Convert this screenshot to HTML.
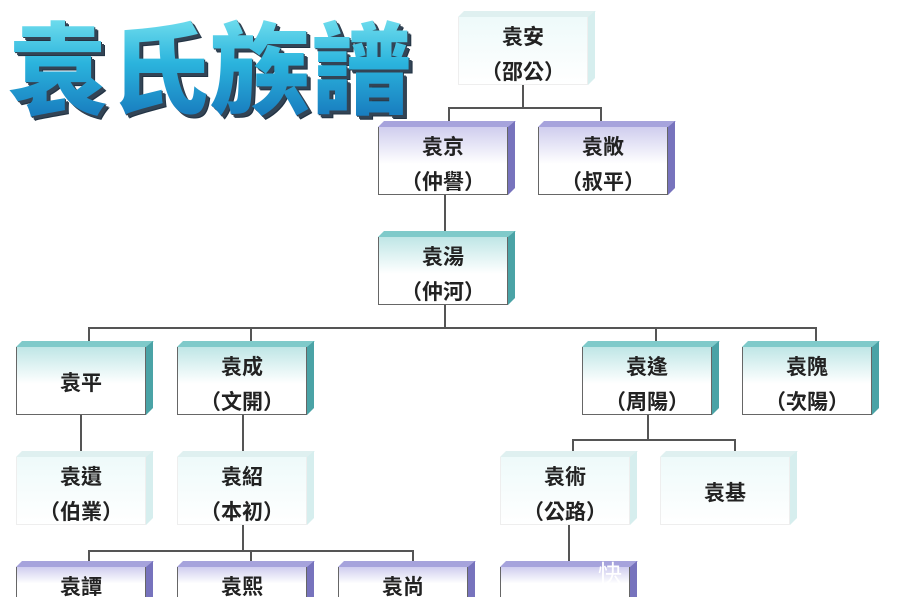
<!DOCTYPE html>
<html><head><meta charset="utf-8"><style>
html,body{margin:0;width:900px;height:597px;background:#fff;overflow:hidden;position:relative;font-family:"Liberation Sans","Noto Sans CJK TC","WenQuanYi Zen Hei",sans-serif}
.b{position:absolute;width:130px;height:68px;box-sizing:border-box;border:1px solid #666;border-top:none;}
.b::before{content:"";position:absolute;left:-1px;top:-6px;width:138px;height:6px;clip-path:polygon(6px 0,100% 0,131px 100%,0 100%);}
.b::after{content:"";position:absolute;right:-8px;top:-6px;width:7px;height:74px;clip-path:polygon(0 6px,100% 0,100% 67px,0 100%);}
.t{background:linear-gradient(#bfe6e6,#fff 55%)}.t::before{background:#7fcaca}.t::after{background:#4aa3a6}
.p{background:linear-gradient(#cfcdee,#fff 55%)}.p::before{background:#a6a3dc}.p::after{background:#7773bd}
.w{background:linear-gradient(#eefafa,#fff);border-color:#eee}.w::before{background:#dff0f0}.w::after{background:#d6eeee}
.b div{position:absolute;left:0;right:0;text-align:center;font-size:21px;font-weight:bold;color:#222;line-height:24px;font-family:"Noto Sans CJK TC","WenQuanYi Zen Hei",sans-serif}
.l1{top:7px}.l2{top:42px}.c{top:23px}
.last{height:30px;border-bottom:none}.last::after{height:36px;clip-path:polygon(0 6px,100% 0,100% 100%,0 100%)}
.h{position:absolute;height:2px;background:#555}.v{position:absolute;width:2px;background:#555}
.title{position:absolute;left:8px;top:-2px;font-size:100px;line-height:130px;font-weight:900;letter-spacing:1px;font-family:"Noto Sans CJK TC","WenQuanYi Zen Hei",sans-serif;
background:linear-gradient(#8ff0f5,#2bb4dd 50%,#1470b8);-webkit-background-clip:text;background-clip:text;color:transparent;
filter:drop-shadow(3px 3px 0 #345) drop-shadow(1px 1px 0 #234)}
</style></head><body>
<div class="title">袁氏族譜</div>

<div class="v" style="left:522px;top:85px;height:24px"></div>
<div class="h" style="left:448px;top:107px;width:154px"></div>
<div class="v" style="left:448px;top:107px;height:14px"></div>
<div class="v" style="left:600px;top:107px;height:14px"></div>
<div class="v" style="left:444px;top:194px;height:41px"></div>
<div class="v" style="left:444px;top:304px;height:24px"></div>
<div class="h" style="left:88px;top:327px;width:729px"></div>
<div class="v" style="left:88px;top:327px;height:14px"></div>
<div class="v" style="left:250px;top:327px;height:14px"></div>
<div class="v" style="left:655px;top:327px;height:14px"></div>
<div class="v" style="left:815px;top:327px;height:14px"></div>
<div class="v" style="left:80px;top:414px;height:40px"></div>
<div class="v" style="left:242px;top:414px;height:40px"></div>
<div class="v" style="left:647px;top:414px;height:26px"></div>
<div class="h" style="left:572px;top:439px;width:164px"></div>
<div class="v" style="left:572px;top:439px;height:12px"></div>
<div class="v" style="left:734px;top:439px;height:12px"></div>
<div class="v" style="left:242px;top:524px;height:27px"></div>
<div class="h" style="left:88px;top:550px;width:326px"></div>
<div class="v" style="left:88px;top:550px;height:12px"></div>
<div class="v" style="left:250px;top:550px;height:12px"></div>
<div class="v" style="left:412px;top:550px;height:12px"></div>
<div class="v" style="left:568px;top:524px;height:38px"></div>

<div class="b w" style="left:458px;top:17px"><div class="l1">袁安</div><div class="l2">（邵公）</div></div>
<div class="b p" style="left:378px;top:127px"><div class="l1">袁京</div><div class="l2">（仲譽）</div></div>
<div class="b p" style="left:538px;top:127px"><div class="l1">袁敞</div><div class="l2">（叔平）</div></div>
<div class="b t" style="left:378px;top:237px"><div class="l1">袁湯</div><div class="l2">（仲河）</div></div>
<div class="b t" style="left:16px;top:347px"><div class="c">袁平</div></div>
<div class="b t" style="left:177px;top:347px"><div class="l1">袁成</div><div class="l2">（文開）</div></div>
<div class="b t" style="left:582px;top:347px"><div class="l1">袁逢</div><div class="l2">（周陽）</div></div>
<div class="b t" style="left:742px;top:347px"><div class="l1">袁隗</div><div class="l2">（次陽）</div></div>
<div class="b w" style="left:16px;top:457px"><div class="l1">袁遺</div><div class="l2">（伯業）</div></div>
<div class="b w" style="left:177px;top:457px"><div class="l1">袁紹</div><div class="l2">（本初）</div></div>
<div class="b w" style="left:500px;top:457px"><div class="l1">袁術</div><div class="l2">（公路）</div></div>
<div class="b w" style="left:660px;top:457px"><div class="c">袁基</div></div>
<div class="b p last" style="left:16px;top:567px"><div class="l1">袁譚</div></div>
<div class="b p last" style="left:177px;top:567px"><div class="l1">袁熙</div></div>
<div class="b p last" style="left:338px;top:567px"><div class="l1">袁尚</div></div>
<div class="b p last" style="left:500px;top:567px"></div>
<div style="position:absolute;left:598px;top:560px;color:#fff;font-size:24px;line-height:30px">快</div>
</body></html>
